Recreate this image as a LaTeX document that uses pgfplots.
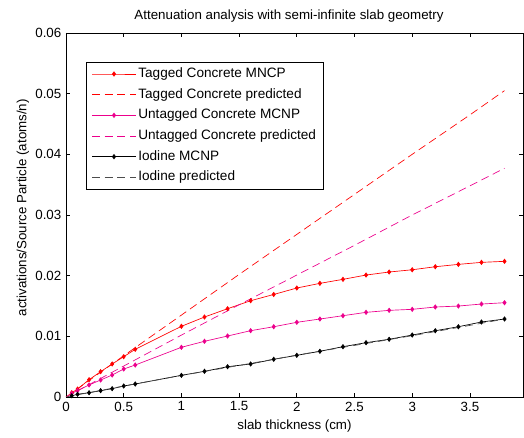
\documentclass[border=0pt]{standalone}
\usepackage{pgfplots}
\pgfplotsset{compat=1.18}
\usepackage{fontspec}
\setmainfont{Liberation Sans}
\pgfplotstableread{
x tag untag iod
0.05 0.0007 0.0006 0.0002
0.1 0.0013 0.00104 0.00045
0.2 0.00285 0.00198 0.0007
0.3 0.00417 0.0028 0.00104
0.4 0.00544 0.00362 0.00137
0.5 0.00664 0.00461 0.00181
0.6 0.00786 0.00527 0.00214
1.0 0.01165 0.00819 0.00357
1.2 0.01318 0.00918 0.00423
1.4 0.01455 0.01005 0.00499
1.6 0.01587 0.01093 0.00544
1.8 0.0169 0.01158 0.00621
2.0 0.01796 0.01231 0.00687
2.2 0.01873 0.01285 0.00753
2.4 0.01939 0.0134 0.00829
2.6 0.0201 0.01395 0.00895
2.8 0.0206 0.01428 0.00951
3.0 0.02097 0.01445 0.01021
3.2 0.02147 0.01483 0.01092
3.4 0.02186 0.01499 0.01158
3.6 0.02219 0.01532 0.01236
3.8 0.02236 0.01554 0.01285
}\mcnp
\pgfplotstableread{
x tag untag iod
0 0 0 0
0.5 0.0068 0.0051 0.0018
1.0 0.0135 0.0102 0.00355
1.5 0.0202 0.0152 0.0052
2.0 0.0268 0.0201 0.0069
2.5 0.0334 0.0250 0.0085
3.0 0.0400 0.0300 0.0101
3.5 0.0465 0.0348 0.0118
3.8 0.0505 0.0377 0.01285
}\pred
\begin{document}
\begin{tikzpicture}
\begin{axis}[name=ax, scale only axis, width=342.75pt, height=273pt,
  xmin=0, xmax=3.96, ymin=0, ymax=0.06,
  xtick={0,0.5,1,1.5,2,2.5,3,3.5}, xticklabels={0,0.5,1,1.5,2,2.5,3,3.5},
  ytick={0,0.01,0.02,0.03,0.04,0.05,0.06}, yticklabels={0,0.01,0.02,0.03,0.04,0.05,0.06},
  scaled y ticks=false,
  tick align=inside, major tick length=3pt,
  tick style={black, line width=0.5pt},
  axis line style={line width=0.5pt},
  font=\fontsize{10}{12}\selectfont,
  title={Attenuation analysis with semi-infinite slab geometry},
  every axis title/.style={at={(axis description cs:0.488,1)}, anchor=center, yshift=12.75pt},
  xlabel={slab thickness (cm)},
  xlabel style={at={(axis description cs:0.5,-0.081)}, anchor=center},
  ylabel={activations/Source Particle (atoms/n)},
  ylabel style={at={(axis description cs:-0.094,0.52)}, anchor=center, rotate=0},
  legend style={at={(axis description cs:0.0438,0.9203)}, anchor=north west, draw=black, line width=0.5pt, fill=white, inner xsep=4pt, inner ysep=1pt, font=\fontsize{10.2}{12}\selectfont, nodes={text height=7.5pt, text depth=2.5pt, inner ysep=2.75pt, inner xsep=1.5pt}, cells={anchor=west}},
  legend image code/.code={\draw[mark repeat=2,mark phase=2,#1] plot coordinates {(0pt,0pt) (16.5pt,0pt) (33pt,0pt)};},
  every axis plot/.append style={line width=0.5pt},
]
\addplot[red, mark=diamond*, mark size=1.6pt] table[x=x,y=tag] {\mcnp};
\addlegendentry{Tagged Concrete MNCP}
\addplot[red, dash pattern=on 6pt off 3.5pt] table[x=x,y=tag] {\pred};
\addlegendentry{Tagged Concrete predicted}
\addplot[magenta, mark=diamond*, mark size=1.6pt] table[x=x,y=untag] {\mcnp};
\addlegendentry{Untagged Concrete MCNP}
\addplot[magenta, dash pattern=on 6pt off 3.5pt] table[x=x,y=untag] {\pred};
\addlegendentry{Untagged Concrete predicted}
\addplot[black, mark=diamond*, mark size=1.6pt] table[x=x,y=iod] {\mcnp};
\addlegendentry{Iodine MCNP}
\addplot[black!70, dash pattern=on 6pt off 3.5pt] table[x=x,y=iod] {\pred};
\addlegendentry{Iodine predicted}
\end{axis}
\pgfresetboundingbox
\path[use as bounding box] ([shift={(-49.5pt,-30.75pt)}]ax.south west) rectangle ([shift={(0.75pt,24.75pt)}]ax.north east);
\end{tikzpicture}
\end{document}
